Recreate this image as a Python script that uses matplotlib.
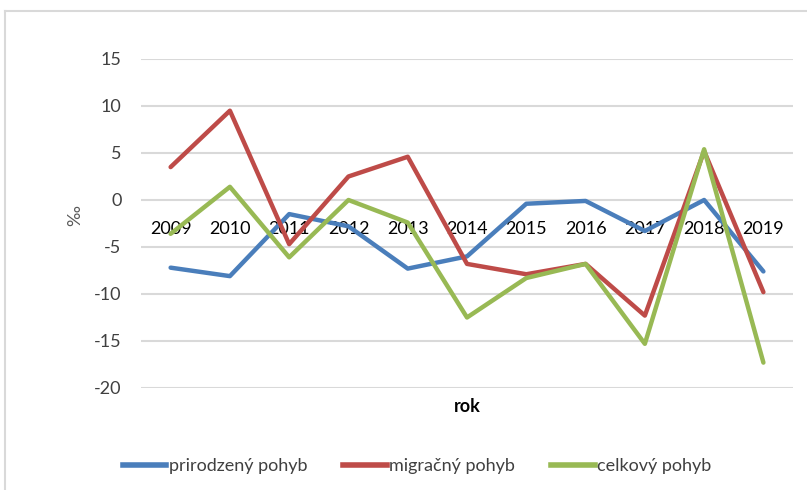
import matplotlib.pyplot as plt
from matplotlib.lines import Line2D

years = ["2009", "2010", "2011", "2012", "2013", "2014",
         "2015", "2016", "2017", "2018", "2019"]
prirodzeny = [-7.2, -8.1, -1.5, -2.8, -7.3, -6.0, -0.4, -0.1, -3.3, 0.0, -7.6]
migracny = [3.5, 9.5, -4.7, 2.5, 4.6, -6.8, -7.9, -6.8, -12.3, 5.2, -9.8]
celkovy = [-3.6, 1.4, -6.1, 0.0, -2.4, -12.5, -8.3, -6.8, -15.3, 5.4, -17.3]

series_names = ["prirodzený pohyb", "migračný pohyb", "celkový pohyb"]
colors = ["#4a7ebb", "#be4b48", "#98b954"]

plt.rcParams["font.family"] = ["Lato", "DejaVu Sans"]
plt.rcParams["axes.unicode_minus"] = False
text_color = "#404040"

fig = plt.figure(figsize=(8.07, 4.9), dpi=100)
ax = fig.add_axes([0.1747, 0.2082, 0.808, 0.6714])

x = range(len(years))
for vals, c in zip([prirodzeny, migracny, celkovy], colors):
    ax.plot(x, vals, color=c, lw=3.2, solid_capstyle="round", zorder=3)

ax.set_xlim(-0.5, len(years) - 0.5)
ax.set_ylim(-20, 15)
ax.set_yticks(range(-20, 16, 5))
ax.yaxis.grid(True, color="#d9d9d9", lw=1.5, zorder=0)
ax.set_axisbelow(True)

for side in ["top", "right", "left"]:
    ax.spines[side].set_visible(False)
ax.spines["bottom"].set_position(("data", 0))
ax.spines["bottom"].set_visible(False)

ax.set_xticks(list(x))
ax.set_xticklabels(years)
ax.tick_params(axis="x", length=0, pad=15, labelsize=13, labelcolor="#000000")
ax.tick_params(axis="y", length=0, pad=14, labelsize=13, labelcolor=text_color)

fig.text(75 / 807, 1 - 215 / 490, "‰", rotation=90, ha="center", va="center",
         fontsize=13, color="#595959")
fig.text(467 / 807, 1 - 406 / 490, "rok", ha="center", va="center",
         fontsize=13, fontweight="bold", color="#000000")

handles = [Line2D([0], [0], color=c, lw=4) for c in colors]
fig.legend(handles, series_names, loc="center", ncol=3,
           bbox_to_anchor=(0.517, 1 - 466 / 490), frameon=False,
           fontsize=13, handlelength=2.4, handletextpad=0.15,
           columnspacing=2.0, labelcolor=text_color)

# chart area border (left and top edges visible)
fig.add_artist(Line2D([5 / 807, 5 / 807], [0, 1 - 11 / 490],
                      transform=fig.transFigure, color="#d9d9d9", lw=1.5))
fig.add_artist(Line2D([5 / 807, 1], [1 - 11 / 490, 1 - 11 / 490],
                      transform=fig.transFigure, color="#d9d9d9", lw=1.5))

fig.savefig("out.png", dpi=100)
